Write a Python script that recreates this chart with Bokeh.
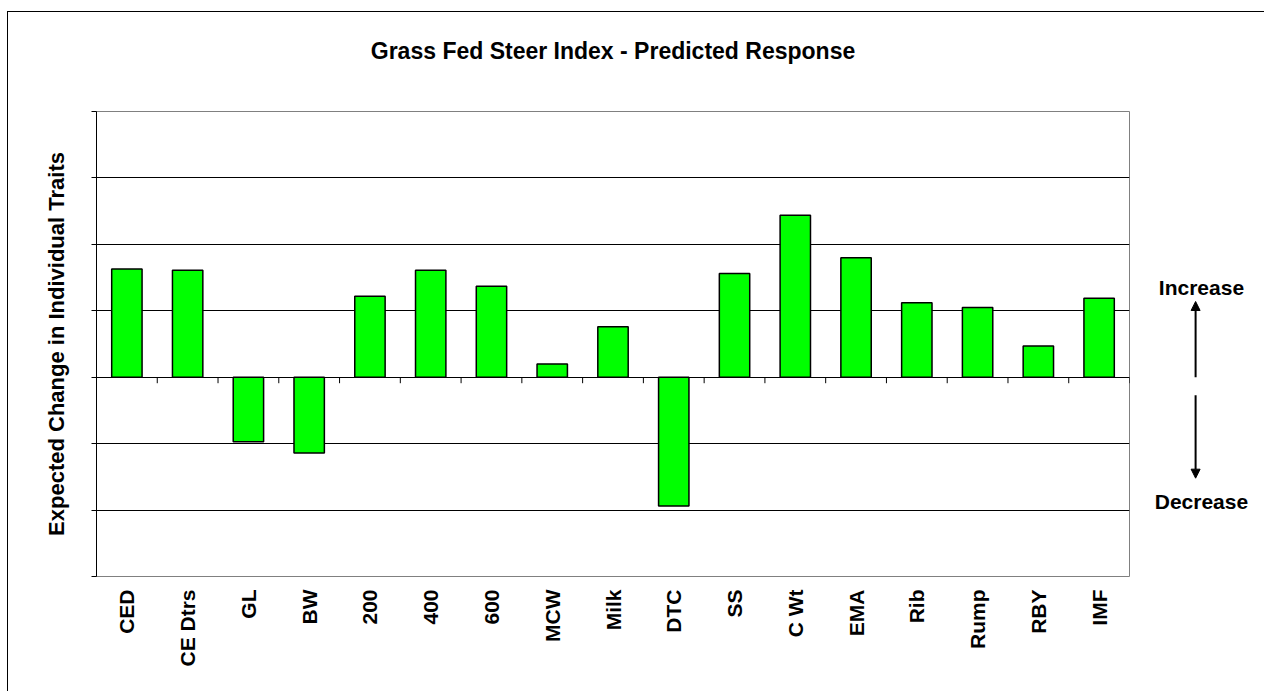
import math
from bokeh.plotting import figure
from bokeh.layouts import row, column
from bokeh.models import (FactorRange, Range1d, SingleIntervalTicker, Arrow,
                          NormalHead, CustomJSTickFormatter)
from bokeh.core.properties import value
from bokeh.embed import file_html
from bokeh.resources import INLINE

# ---- data ----
traits = ["CED", "CE Dtrs", "GL", "BW", "200", "400", "600", "MCW", "Milk", "DTC",
          "SS", "C Wt", "EMA", "Rib", "Rump", "RBY", "IMF"]
response = [1.63, 1.61, -0.97, -1.14, 1.22, 1.61, 1.37, 0.20, 0.76, -1.94,
            1.56, 2.44, 1.80, 1.12, 1.05, 0.47, 1.19]
y_min, y_max = -3, 4
title_text = "Grass Fed Steer Index - Predicted Response"
y_label = "Expected Change in Individual Traits"
side_texts = ["Increase", "Decrease"]
side_text_y = [1.35, -1.87]
up_arrow = (0.0, 1.14)
down_arrow = (-0.27, -1.52)

FONT = "Liberation Sans"
HEAD_H = 94
TOP, BOTTOM = 5, 115
H = 679 - HEAD_H
MAIN_W = 1126
FULL_W = 1256

# ---- header with title ----
hdr = figure(width=FULL_W, height=HEAD_H, output_backend="svg", toolbar_location=None,
             x_range=Range1d(0, FULL_W), y_range=Range1d(0, HEAD_H), min_border=0,
             background_fill_color="white", border_fill_color="white")
hdr.axis.visible = False
hdr.grid.visible = False
hdr.outline_line_color = None
hdr.text(x=[604.5], y=[HEAD_H - 38], text=[title_text], text_align="center",
         text_baseline="middle", text_font=value(FONT), text_font_size="23px",
         text_font_style="bold", text_color="black")

# ---- main chart ----
p = figure(width=MAIN_W, height=H, output_backend="svg", toolbar_location=None,
           x_range=FactorRange(*traits), y_range=Range1d(y_min, y_max),
           min_border_left=88, min_border_right=5, min_border_top=TOP,
           min_border_bottom=BOTTOM, background_fill_color="white",
           border_fill_color="white")

p.outline_line_color = "#808080"
p.outline_line_width = 1

p.xgrid.grid_line_color = None
p.ygrid.ticker = SingleIntervalTicker(interval=1)
p.ygrid.grid_line_color = "black"
p.ygrid.grid_line_width = 1

p.yaxis.ticker = SingleIntervalTicker(interval=1)
p.yaxis.formatter = CustomJSTickFormatter(code="return ''")
p.yaxis.major_label_standoff = 0
p.yaxis.major_tick_in = 0
p.yaxis.major_tick_out = 5
p.yaxis.minor_tick_line_color = None
p.yaxis.axis_line_color = "black"
p.yaxis.major_tick_line_color = "black"
p.yaxis.axis_label = y_label
p.yaxis.axis_label_text_font = FONT
p.yaxis.axis_label_text_font_size = "22px"
p.yaxis.axis_label_text_font_style = "bold"
p.yaxis.axis_label_text_color = "black"
p.yaxis.axis_label_standoff = 23

p.xaxis.axis_line_color = None
p.xaxis.major_tick_line_color = None
p.xaxis.minor_tick_line_color = None
p.xaxis.major_label_orientation = math.pi / 2
p.xaxis.major_label_standoff = 7
p.xaxis.major_label_text_font = FONT
p.xaxis.major_label_text_font_size = "21px"
p.xaxis.major_label_text_font_style = "bold"
p.xaxis.major_label_text_color = "black"

p.vbar(x=traits, top=response, bottom=0, width=0.5, fill_color="#00FF00",
       line_color="black", line_width=1.5)

# category-boundary tick marks on the zero line
bounds = list(range(len(traits) + 1))
tick_len = 6 / (465 / (y_max - y_min))
p.segment(x0=bounds, y0=[0] * len(bounds), x1=bounds, y1=[-tick_len] * len(bounds),
          line_color="black", line_width=1)

# ---- side panel with Increase / Decrease ----
s = figure(width=FULL_W - MAIN_W, height=H, output_backend="svg", toolbar_location=None,
           x_range=Range1d(0, 1), y_range=Range1d(y_min, y_max),
           min_border_left=0, min_border_right=0, min_border_top=TOP,
           min_border_bottom=BOTTOM, background_fill_color="white",
           border_fill_color="white")
s.axis.visible = False
s.grid.visible = False
s.outline_line_color = None
s.text(x=[0.515, 0.515], y=side_text_y, text=side_texts, text_align="center",
       text_baseline="middle", text_font=value(FONT), text_font_size="21px",
       text_font_style="bold", text_color="black")
for y0, y1 in (up_arrow, down_arrow):
    s.add_layout(Arrow(x_start=0.47, y_start=y0, x_end=0.47, y_end=y1,
                       line_width=2, line_color="black",
                       end=NormalHead(size=9, fill_color="black", line_color="black")))

layout = column(hdr, row(p, s), margin=(11, 0, 0, 7),
                styles={"border-left": "1px solid black", "border-top": "1px solid black"})

open("out.html", "w").write(file_html(layout, INLINE))
